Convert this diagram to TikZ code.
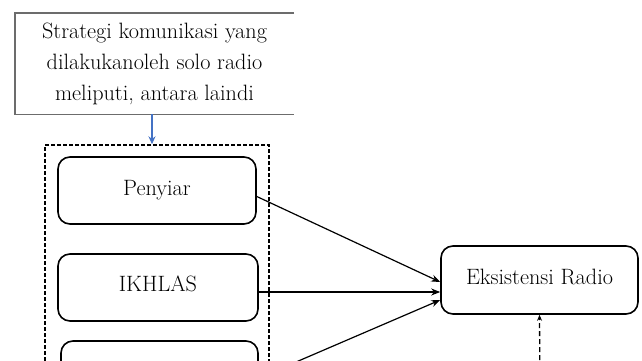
\documentclass[tikz,border=0pt]{standalone}
\usepackage{fontspec}
\usetikzlibrary{arrows.meta}
\tikzset{
  rbox/.style={draw=black, line width=1.6pt, rounded corners=12pt, inner sep=0pt, align=center},
  frame/.style={draw=black, line width=1.4pt, dash pattern=on 4pt off 2pt, inner sep=0pt},
  link/.style={draw=black, line width=1.2pt, -{Stealth[length=9pt,width=7pt]}},
  dlink/.style={draw=black, line width=1.3pt, dash pattern=on 5pt off 3pt, -{Stealth[length=6pt,width=5pt]}},
  bluelink/.style={draw=blue1, line width=1.6pt, -{Stealth[length=8pt,width=7pt]}},
  topborder/.style={draw=gray!85!black, line width=1.4pt},
  txt/.style={font=\fontsize{22.2}{31}\selectfont}
}
\definecolor{blue1}{RGB}{68,114,196}
\begin{document}
\begin{tikzpicture}[x=1pt,y=-1pt]
\useasboundingbox (0,0) rectangle (642,360);
\clip (0,0) rectangle (642,360);
% top box
\node[txt, align=center, minimum width=279pt, minimum height=101pt, inner sep=0pt] (top) at (154.5,63.5)
  {\raisebox{-2.5pt}{\parbox{279pt}{\centering Strategi komunikasi yang\\ dilakukanoleh solo radio\\ meliputi, antara laindi}}};
\draw[topborder] (top.north east) -- (top.north west) -- (top.south west) -- (top.south east);
% dashed frame
\node[frame, minimum width=224pt, minimum height=300pt] (frame) at (157,295) {};
% boxes
\node[rbox, txt, minimum width=198pt, minimum height=67pt] (penyiar) at (157,190.5) {\raisebox{6pt}{Penyiar}};
\node[rbox, txt, minimum width=200pt, minimum height=67pt] (ikhlas) at (158,287.5) {\raisebox{7pt}{IKHLAS}};
\node[rbox, txt, minimum width=197pt, minimum height=67pt] (third) at (159.5,374.5) {};
\node[rbox, txt, minimum width=197pt, minimum height=68pt] (eksis) at (539.5,280) {\raisebox{6pt}{Eksistensi Radio}};
\coordinate (below) at (540,400);
% connectors
\draw[bluelink] (top.south -| 152,0) -- (frame.north -| 152,0);
\draw[link] ([yshift=-6pt]penyiar.east) -- ([yshift=-2pt]eksis.west);
\draw[link] ([yshift=-4.5pt]ikhlas.east) -- ([yshift=-12pt]eksis.west);
\draw[link] ([yshift=-3.5pt]third.east) -- ([yshift=-20pt]eksis.west);
\draw[dlink] (below) -- (eksis.south);
\end{tikzpicture}
\end{document}
